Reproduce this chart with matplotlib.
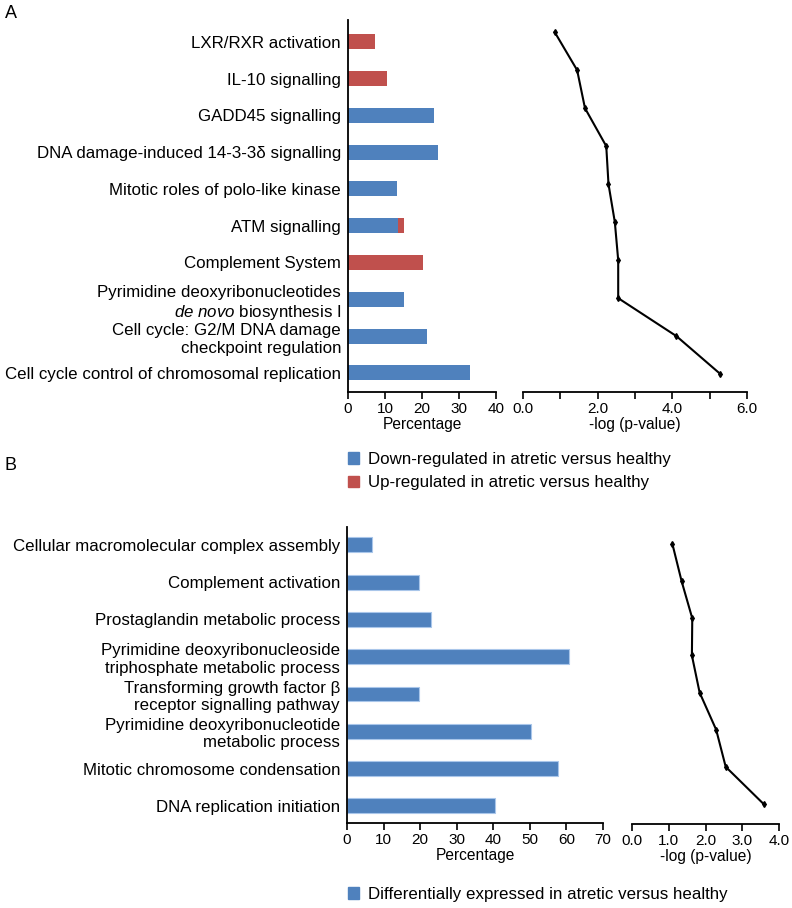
import matplotlib
matplotlib.use("Agg")
import matplotlib.pyplot as plt
from matplotlib.patches import Patch

plt.rcParams["font.family"] = ["Liberation Sans", "DejaVu Sans"]
plt.rcParams["mathtext.fontset"] = "custom"
plt.rcParams["mathtext.rm"] = "Liberation Sans"
plt.rcParams["mathtext.it"] = "Liberation Sans:italic"

# Panel A data (top to bottom)
pathways_a = [
    "LXR/RXR activation",
    "IL-10 signalling",
    "GADD45 signalling",
    "DNA damage-induced 14-3-3\u03b4 signalling",
    "Mitotic roles of polo-like kinase",
    "ATM signalling",
    "Complement System",
    "Pyrimidine deoxyribonucleotides\n$\\it{de\\ novo}$ biosynthesis I",
    "Cell cycle: G2/M DNA damage\ncheckpoint regulation",
    "Cell cycle control of chromosomal replication",
]
down_a = [0, 0, 23.2, 24.2, 13.2, 13.5, 0, 15.0, 21.3, 32.9]
up_a = [7.4, 10.6, 0, 0, 0, 1.5, 20.2, 0, 0, 0]
logp_a = [0.85, 1.45, 1.66, 2.23, 2.29, 2.46, 2.55, 2.55, 4.11, 5.29]

# Panel B data (top to bottom)
terms_b = [
    "Cellular macromolecular complex assembly",
    "Complement activation",
    "Prostaglandin metabolic process",
    "Pyrimidine deoxyribonucleoside\ntriphosphate metabolic process",
    "Transforming growth factor \u03b2\nreceptor signalling pathway",
    "Pyrimidine deoxyribonucleotide\nmetabolic process",
    "Mitotic chromosome condensation",
    "DNA replication initiation",
]
pct_b = [6.8, 19.6, 22.9, 60.6, 19.7, 50.4, 57.6, 40.5]
logp_b = [1.10, 1.35, 1.64, 1.63, 1.84, 2.29, 2.55, 3.58]

blue = "#4F81BD"
red = "#C0504D"
W, H = 792, 908
lab_fs = 12.2
tick_fs = 11
axlab_fs = 11.2


def box(x0, y0, x1, y1):
    return [x0 / W, 1 - y1 / H, (x1 - x0) / W, (y1 - y0) / H]


def style_axes(ax, left=True):
    ax.spines["top"].set_visible(False)
    ax.spines["right"].set_visible(False)
    ax.spines["left"].set_visible(left)
    ax.spines["bottom"].set_linewidth(1.3)
    ax.spines["left"].set_linewidth(1.3)
    ax.tick_params(axis="x", direction="out", length=5, width=1.2, labelsize=tick_fs, pad=2)
    ax.tick_params(axis="x", which="minor", direction="out", length=5, width=1.2)
    ax.tick_params(axis="y", length=0)


fig = plt.figure(figsize=(W / 100, H / 100), dpi=100)

# ---- Panel A ----
n_a = len(pathways_a)
pos_a = list(range(n_a - 1, -1, -1))

ax1 = fig.add_axes(box(348, 20, 496, 392))
ax1.barh(pos_a, down_a, height=0.41, color=blue)
ax1.barh(pos_a, up_a, left=down_a, height=0.41, color=red)
ax1.set_ylim(-0.52, n_a - 1 + 0.59)
ax1.set_xlim(0, 40)
ax1.set_xticks([0, 10, 20, 30, 40])
ax1.set_yticks(pos_a)
ax1.set_yticklabels(pathways_a, fontsize=lab_fs)
for lbl in ax1.get_yticklabels():
    lbl.set_linespacing(1.25)
ax1.tick_params(axis="y", pad=5)
style_axes(ax1)
ax1.set_xlabel("Percentage", fontsize=axlab_fs, labelpad=1)

ax2 = fig.add_axes(box(523, 20, 747, 392))
ax2.plot(logp_a, pos_a, color="black", lw=1.5, marker="d", ms=3)
ax2.set_ylim(-0.47, n_a - 1 + 0.32)
ax2.set_xlim(0, 6)
ax2.set_xticks([0, 2, 4, 6])
ax2.set_xticks([1, 3, 5], minor=True)
ax2.set_xticklabels(["0.0", "2.0", "4.0", "6.0"])
ax2.set_yticks([])
style_axes(ax2, left=False)
ax2.set_xlabel("-log (p-value)", fontsize=axlab_fs, labelpad=1)

fig.text(5 / W, 1 - 14 / H, "A", fontsize=13, va="center", ha="left")

fig.legend(
    handles=[Patch(color=blue), Patch(color=red)],
    labels=["Down-regulated in atretic versus healthy", "Up-regulated in atretic versus healthy"],
    loc="upper left", bbox_to_anchor=(348 / W, 1 - 452 / H),
    frameon=False, fontsize=lab_fs, handlelength=0.65, handleheight=0.65,
    handletextpad=0.55, labelspacing=0.5, borderpad=0, borderaxespad=0,
)

# ---- Panel B ----
n_b = len(terms_b)
pos_b = list(range(n_b - 1, -1, -1))

ax3 = fig.add_axes(box(347, 527, 603, 823))
ax3.barh(pos_b, pct_b, height=0.4, color=blue, edgecolor="#A9C6EA", linewidth=0.8)
ax3.set_ylim(-0.46, n_b - 1 + 0.48)
ax3.set_xlim(0, 70)
ax3.set_xticks(range(0, 71, 10))
ax3.set_yticks(pos_b)
ax3.set_yticklabels(terms_b, fontsize=lab_fs)
for lbl in ax3.get_yticklabels():
    lbl.set_linespacing(1.2)
ax3.tick_params(axis="y", pad=5)
style_axes(ax3)
ax3.set_xlabel("Percentage", fontsize=axlab_fs, labelpad=1)

ax4 = fig.add_axes(box(632, 527, 779, 824))
ax4.plot(logp_b, pos_b, color="black", lw=1.5, marker="d", ms=3)
ax4.set_ylim(-0.54, n_b - 1 + 0.46)
ax4.set_xlim(0, 4)
ax4.set_xticks([0, 1, 2, 3, 4])
ax4.set_xticklabels(["0.0", "1.0", "2.0", "3.0", "4.0"])
ax4.set_yticks([])
style_axes(ax4, left=False)
ax4.set_xlabel("-log (p-value)", fontsize=axlab_fs, labelpad=1)

fig.text(5 / W, 1 - 466 / H, "B", fontsize=13, va="center", ha="left")

fig.legend(
    handles=[Patch(color=blue)],
    labels=["Differentially expressed in atretic versus healthy"],
    loc="upper left", bbox_to_anchor=(348 / W, 1 - 887 / H),
    frameon=False, fontsize=lab_fs, handlelength=0.65, handleheight=0.65,
    handletextpad=0.55, borderpad=0, borderaxespad=0,
)

fig.savefig("out.png", dpi=100)
